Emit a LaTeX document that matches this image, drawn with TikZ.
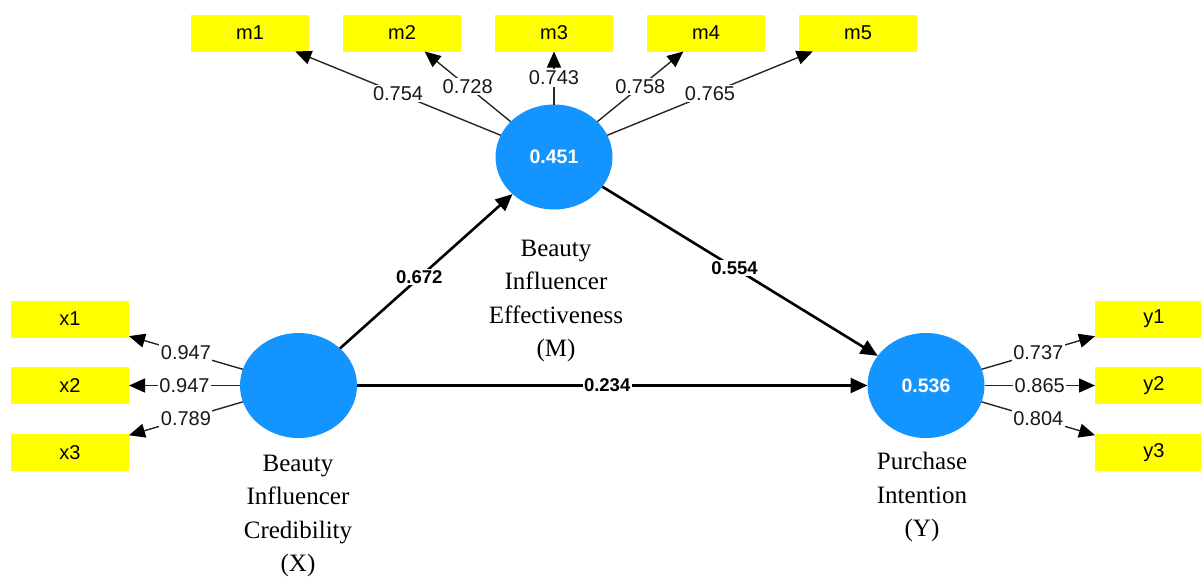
\documentclass[tikz,border=0pt]{standalone}
\usepackage{fontspec}
\setmainfont{Liberation Serif}
\newfontfamily\arialf{Liberation Sans}
\usetikzlibrary{shapes.geometric,arrows.meta}
\definecolor{lvblue}{RGB}{20,148,255}
\definecolor{indyellow}{RGB}{255,255,0}
\begin{document}
\begin{tikzpicture}[x=1pt,y=-1pt,
 lv/.style={ellipse, fill=lvblue, minimum width=117pt, minimum height=105pt, inner sep=0pt, outer sep=0pt, text=white, font=\arialf\bfseries\fontsize{19.5}{21}\selectfont},
 ind/.style={rectangle, fill=indyellow, minimum width=118pt, minimum height=37pt, inner sep=0pt, outer sep=0pt, font=\arialf\fontsize{20}{22}\selectfont},
 loadar/.style={draw=black!85, line width=1.4pt, -{Triangle[length=16pt,width=14pt,fill=black,color=black]}},
 loadlbl/.style={fill=white, inner sep=1.5pt, font=\arialf\fontsize{20}{22}\selectfont, text=black!90},
 pathar/.style={draw=black, line width=2.6pt, -{Triangle[length=17pt,width=15pt]}},
 pathlbl/.style={fill=white, inner sep=1.5pt, font=\arialf\bfseries\fontsize{18.5}{20}\selectfont},
 lvtext/.style={align=center, font=\fontsize{25}{33.5}\selectfont}
]
\useasboundingbox (0,0) rectangle (1201,576);
\clip (0,0) rectangle (1201,576);

% latent variables
\node[lv] (M) at (554,157) {0.451};
\node[lv] (X) at (298.5,385.5) {};
\node[lv] (Y) at (926,385.5) {0.536};

% indicators
\node[ind] (m1) at (250,33) {m1};
\node[ind] (m2) at (402,33) {m2};
\node[ind] (m3) at (554,33) {m3};
\node[ind] (m4) at (706,33) {m4};
\node[ind] (m5) at (858,33) {m5};
\node[ind] (x1) at (70,319) {x1};
\node[ind] (x2) at (70,385.5) {x2};
\node[ind] (x3) at (70,452.5) {x3};
\node[ind] (y1) at (1154,319) {y1};
\node[ind] (y2) at (1154,385.5) {y2};
\node[ind] (y3) at (1154,452.5) {y3};

% names
\node[lvtext] (Mname) at (556,301) {Beauty\\Influencer\\Effectiveness\\(M)};
\node[lvtext] (Xname) at (298,516) {Beauty\\Influencer\\Credibility\\(X)};
\node[lvtext] (Yname) at (922,497) {Purchase\\Intention\\(Y)};

% loadings
\draw[loadar] (M) -- node[loadlbl]{0.754} (m1);
\draw[loadar] (M) -- node[loadlbl]{0.728} (m2);
\draw[loadar] (M) -- node[loadlbl]{0.743} (m3);
\draw[loadar] (M) -- node[loadlbl]{0.758} (m4);
\draw[loadar] (M) -- node[loadlbl]{0.765} (m5);
\draw[loadar] (X) -- node[loadlbl]{0.947} (x1);
\draw[loadar] (X) -- node[loadlbl]{0.947} (x2);
\draw[loadar] (X) -- node[loadlbl]{0.789} (x3);
\draw[loadar] (Y) -- node[loadlbl]{0.737} (y1);
\draw[loadar] (Y) -- node[loadlbl]{0.865} (y2);
\draw[loadar] (Y) -- node[loadlbl]{0.804} (y3);

% structural paths
\draw[pathar] (X) -- node[pathlbl, pos=0.46]{0.672} (M);
\draw[pathar] (M) -- node[pathlbl, pos=0.48]{0.554} (Y);
\draw[pathar] (X) -- node[pathlbl, pos=0.49]{0.234} (Y);
\end{tikzpicture}
\end{document}
